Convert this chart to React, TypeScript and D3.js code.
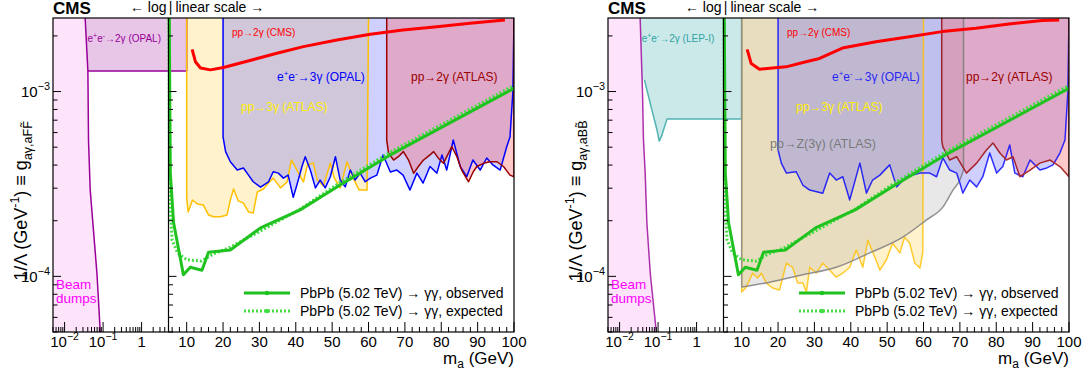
import React from "react";
import * as d3 from "d3";

type P = [number, number];

// ---- axis domains ----
const Y_MIN = 5e-5;
const Y_MAX = 2.5e-3;
const LOG_MIN = 0.005;
const SPLIT = 5;
const LIN_MAX = 100;
const TOP = 18;
const BOTTOM = 332;

const xLogMajor: [number, string, string][] = [
  [0.01, "10", "\u22122"],
  [0.1, "10", "\u22121"],
  [1, "1", ""],
];
const xLinMajor = [10, 20, 30, 40, 50, 60, 70, 80, 90, 100];
const yMajor: [number, string][] = [
  [1e-3, "\u22123"],
  [1e-4, "\u22124"],
];

// ---- left panel (a F Ftilde) ----
const beamDumpF: P[] = [[0.0342, 2.5e-3], [0.0403, 1.29e-3], [0.0418, 5.47e-4], [0.0463, 2.93e-4], [0.0692, 1.04e-4], [0.0844, 5.0e-5]];
const ee2gOpalF: P[] = [[10, 1.29e-3], [0.0403, 1.29e-3]];
const pp2gCmsF: P[] = [[11.5, 1.69e-3], [12.4, 1.45e-3], [13.8, 1.34e-3], [16.5, 1.31e-3], [20.1, 1.35e-3], [34.8, 1.61e-3], [42.1, 1.75e-3], [51.3, 1.90e-3], [60.5, 2.04e-3], [69.5, 2.15e-3], [78.8, 2.24e-3], [87.9, 2.34e-3], [97.5, 2.44e-3]];
const pp3gAtlasF: P[] = [[10.0, 2.65e-4], [10.4, 2.23e-4], [11.6, 2.59e-4], [13.0, 2.46e-4], [14.6, 2.43e-4], [16.0, 2.15e-4], [17.4, 2.10e-4], [19.3, 2.10e-4], [21.1, 2.15e-4], [22.0, 2.59e-4], [22.9, 2.97e-4], [24.2, 2.56e-4], [25.6, 2.49e-4], [27.0, 2.23e-4], [28.3, 2.20e-4], [29.4, 2.86e-4], [31.1, 2.97e-4], [32.5, 3.20e-4], [33.8, 3.40e-4], [35.8, 3.01e-4], [37.6, 3.24e-4], [38.8, 4.26e-4], [40.3, 3.76e-4], [42.1, 3.24e-4], [43.2, 4.01e-4], [44.8, 4.10e-4], [45.9, 3.32e-4], [47.6, 3.08e-4], [49.5, 4.10e-4], [50.6, 3.40e-4], [52.2, 3.01e-4], [54.1, 4.16e-4], [55.8, 3.40e-4], [57.4, 2.93e-4], [59.6, 2.93e-4]];
const ee3gOpalF: P[] = [[20.0, 5.68e-4], [20.7, 4.73e-4], [22.0, 4.17e-4], [23.9, 3.76e-4], [25.6, 3.86e-4], [27.0, 3.53e-4], [28.3, 3.25e-4], [30.3, 3.04e-4], [32.5, 3.25e-4], [33.8, 3.68e-4], [35.2, 3.62e-4], [36.6, 3.40e-4], [37.9, 3.53e-4], [39.3, 2.68e-4], [40.3, 3.12e-4], [41.7, 3.93e-4], [42.6, 4.44e-4], [44.0, 3.76e-4], [45.4, 3.01e-4], [46.7, 3.32e-4], [48.1, 3.01e-4], [49.5, 3.46e-4], [50.9, 4.44e-4], [52.2, 3.32e-4], [53.6, 3.05e-4], [55.0, 3.76e-4], [56.3, 3.32e-4], [57.7, 3.62e-4], [59.1, 3.25e-4], [60.5, 3.40e-4], [62.3, 3.53e-4], [64.0, 4.54e-4], [66.0, 3.67e-4], [67.8, 3.76e-4], [69.5, 3.53e-4], [71.4, 2.93e-4], [73.3, 3.62e-4], [75.0, 3.20e-4], [76.9, 3.93e-4], [78.8, 3.62e-4], [80.2, 4.54e-4], [81.5, 3.76e-4], [83.3, 5.47e-4], [85.2, 3.93e-4], [87.0, 3.46e-4], [88.7, 4.26e-4], [90.7, 3.76e-4], [92.5, 4.37e-4], [94.2, 4.01e-4], [96.2, 3.76e-4], [98.0, 5.03e-4], [98.9, 5.68e-4], [99.7, 1.0e-3]];
const pp2gAtlasF: P[] = [[65.0, 5.47e-4], [65.5, 4.64e-4], [66.9, 4.26e-4], [68.2, 4.44e-4], [69.6, 4.73e-4], [71.0, 4.26e-4], [72.4, 3.61e-4], [73.7, 3.93e-4], [75.1, 4.26e-4], [76.9, 4.54e-4], [77.9, 4.73e-4], [79.2, 4.36e-4], [80.6, 4.09e-4], [82.0, 4.64e-4], [82.9, 5.03e-4], [84.3, 4.44e-4], [85.6, 3.76e-4], [87.5, 3.25e-4], [88.8, 3.68e-4], [89.8, 3.93e-4], [91.6, 4.09e-4], [93.4, 4.17e-4], [95.3, 4.17e-4], [97.1, 3.93e-4], [98.9, 3.53e-4], [100, 3.46e-4]];

// ---- right panel (a B Btilde) ----
const beamDumpB: P[] = [[0.0342, 2.5e-3], [0.0393, 1.0e-3], [0.0417, 5.47e-4], [0.0462, 3.62e-4], [0.0511, 1.95e-4], [0.0626, 1.04e-4], [0.0899, 5.0e-5]];
const ee2gLepB: P[] = [[10, 7.1e-4], [0.171, 7.1e-4], [0.121, 5.68e-4], [0.107, 5.39e-4], [0.0936, 6.19e-4], [0.0692, 7.94e-4], [0.0512, 1.02e-3], [0.0443, 1.156e-3]];
const pp2gCmsB: P[] = [[11.5, 1.69e-3], [12.6, 1.42e-3], [14.9, 1.32e-3], [18.5, 1.34e-3], [22.2, 1.36e-3], [27.7, 1.45e-3], [31.4, 1.51e-3], [37.7, 1.72e-3], [46.9, 1.86e-3], [56.1, 1.98e-3], [65.1, 2.11e-3], [74.4, 2.20e-3], [83.5, 2.32e-3], [92.6, 2.42e-3], [97.3, 2.44e-3]];
const pp3gAtlasB: P[] = [[10.0, 8.22e-5], [11.3, 8.75e-5], [13.0, 1.04e-4], [14.4, 9.8e-5], [15.4, 1.04e-4], [16.8, 9.2e-5], [18.5, 8.65e-5], [20.4, 8.44e-5], [22.3, 1.18e-4], [24.0, 1.12e-4], [25.4, 9.2e-5], [26.8, 9.2e-5], [27.8, 8.22e-5], [28.7, 1.12e-4], [30.5, 1.04e-4], [32.3, 1.18e-4], [34.2, 1.08e-4], [36.0, 9.9e-5], [37.8, 1.04e-4], [39.7, 1.12e-4], [41.5, 1.39e-4], [43.3, 1.12e-4], [44.7, 1.57e-4], [46.6, 1.27e-4], [48.0, 1.08e-4], [49.8, 1.23e-4], [51.5, 1.51e-4], [53.5, 1.34e-4], [54.8, 1.63e-4], [56.2, 1.51e-4], [57.6, 1.18e-4], [59.0, 1.11e-4], [59.8, 1.34e-4]];
const ppZ3gAtlasB: P[] = [[10, 8.75e-5], [17.7, 9.3e-5], [26.8, 1.02e-4], [36.0, 1.12e-4], [45.2, 1.34e-4], [54.3, 1.63e-4], [60.8, 2.02e-4], [65.3, 2.37e-4], [68.1, 2.93e-4], [70.0, 3.32e-4], [71.0, 3.76e-4]];
const ee3gOpalB: P[] = [[20.0, 4.83e-4], [20.9, 4.10e-4], [22.3, 3.62e-4], [25.0, 3.68e-4], [26.8, 3.12e-4], [28.7, 2.93e-4], [32.3, 2.82e-4], [34.2, 3.62e-4], [36.0, 3.32e-4], [37.8, 3.46e-4], [39.7, 2.59e-4], [42.5, 4.10e-4], [44.3, 2.82e-4], [46.0, 3.32e-4], [48.0, 3.53e-4], [50.7, 4.01e-4], [52.6, 3.05e-4], [55.3, 3.46e-4], [59.0, 3.62e-4], [61.7, 3.62e-4], [63.6, 3.46e-4], [65.3, 4.37e-4], [67.2, 3.76e-4], [69.1, 3.62e-4], [70.0, 3.20e-4], [70.8, 2.82e-4], [72.7, 3.32e-4], [74.6, 3.05e-4], [76.3, 3.46e-4], [78.2, 4.65e-4], [80.1, 3.62e-4], [81.8, 3.93e-4], [83.7, 5.14e-4], [85.1, 3.62e-4], [87.3, 3.46e-4], [89.3, 4.26e-4], [92.0, 3.76e-4], [93.9, 3.86e-4], [95.6, 4.01e-4], [97.5, 4.65e-4], [98.9, 5.47e-4], [99.7, 1.0e-3]];
const pp2gAtlasB: P[] = [[65.0, 5.47e-4], [65.3, 5.03e-4], [67.2, 4.26e-4], [69.1, 4.44e-4], [71.8, 3.62e-4], [74.6, 4.10e-4], [77.3, 4.83e-4], [79.1, 5.27e-4], [81.0, 4.65e-4], [82.8, 4.26e-4], [84.6, 4.44e-4], [86.5, 3.46e-4], [89.3, 3.76e-4], [92.0, 4.10e-4], [94.8, 4.26e-4], [97.5, 3.93e-4], [100, 3.46e-4]];

// ---- this result (both panels) ----
const pbpbObserved: P[] = [[5.0, 1e-2], [5.5, 3.62e-4], [6.4, 1.95e-4], [9.1, 1.02e-4], [11.0, 1.12e-4], [14.2, 1.08e-4], [16.0, 1.35e-4], [22.0, 1.39e-4], [30.3, 1.83e-4], [41.2, 2.29e-4], [52.2, 3.12e-4], [66.0, 4.54e-4], [100, 1.04e-3]];
const pbpbExpected: P[] = [[5.0, 1e-2], [5.3, 2.59e-4], [6.0, 1.57e-4], [7.5, 1.34e-4], [10.0, 1.23e-4], [14.0, 1.21e-4], [17.0, 1.31e-4], [22.0, 1.44e-4], [30.3, 1.76e-4], [41.0, 2.30e-4], [52.0, 3.20e-4], [66.0, 4.70e-4], [100, 1.08e-3]];

const FONT = "'Liberation Sans', Arial, Helvetica, sans-serif";
const C = {
  beamFill: "#fde4fb",
  beamLine: "#990099",
  opalFill: "#e8c6e8",
  lepFill: "#cce9e9",
  lepLine: "#2ea3a3",
  yellowFill: "#fff2cc",
  yellowLine: "#ffc000",
  grayFill: "rgba(128,128,128,0.18)",
  grayLine: "#7a7a7a",
  blueFill: "rgba(100,100,255,0.3)",
  blueLine: "#0000ff",
  pinkFill: "rgba(255,90,90,0.33)",
  pinkLine: "#990000",
  red: "#ff0000",
  obs: "#1fc21f",
  exp: "#44dd44",
};

function Sup({ base, sup, size }: { base: string; sup: string; size: number }) {
  return (
    <>
      {base}
      {sup ? <tspan dy={-size * 0.45} fontSize={size * 0.7}>{sup}</tspan> : null}
    </>
  );
}

function Panel({ left, kind }: { left: number; kind: "F" | "B" }) {
  const div = left + 115.5;
  const right = left + 461;
  const xl = d3.scaleLog().domain([LOG_MIN, SPLIT]).range([left, div]);
  const xr = d3.scaleLinear().domain([SPLIT, LIN_MAX]).range([div, right]);
  const X = (m: number) => (m <= SPLIT ? xl(m) : xr(m));
  const y = d3.scaleLog().domain([Y_MIN, Y_MAX]).range([BOTTOM, TOP]);
  const line = d3.line<P>().x((d) => X(d[0])).y((d) => y(d[1]));
  const path = (pts: P[]) => line(pts) ?? "";
  const poly = (pts: P[]) => path(pts) + "Z";
  const clipId = `clip-${kind}`;
  const isF = kind === "F";
  const beam = isF ? beamDumpF : beamDumpB;
  const cms = isF ? pp2gCmsF : pp2gCmsB;
  const yellow = isF ? pp3gAtlasF : pp3gAtlasB;
  const blue = isF ? ee3gOpalF : ee3gOpalB;
  const pink = isF ? pp2gAtlasF : pp2gAtlasB;
  const lineOp = isF ? 1 : 0.8;

  const yTicks: { v: number; major: boolean }[] = [];
  for (let e = -5; e <= -3; e++)
    for (let k = 1; k <= 9; k++) {
      const v = k * Math.pow(10, e);
      if (v >= Y_MIN * 0.999 && v <= Y_MAX * 1.001) yTicks.push({ v, major: k === 1 });
    }
  const xLogTicks: { v: number; major: boolean }[] = [];
  for (let e = -3; e <= 0; e++)
    for (let k = 1; k <= 9; k++) {
      const v = k * Math.pow(10, e);
      if (v >= LOG_MIN * 0.999 && v < SPLIT * 0.999) xLogTicks.push({ v, major: k === 1 });
    }
  const xLinTicks: { v: number; major: boolean }[] = [];
  for (let v = 6; v <= LIN_MAX; v += 2) xLinTicks.push({ v, major: v % 10 === 0 });

  const grayCurve = d3.line<P>().x((d) => X(d[0])).y((d) => y(d[1])).curve(d3.curveMonotoneX);
  const grayLast = ppZ3gAtlasB[ppZ3gAtlasB.length - 1];
  const grayOutline =
    `M${X(ppZ3gAtlasB[0][0])},${y(Y_MAX)}L` + (grayCurve(ppZ3gAtlasB) ?? "").slice(1) + `L${X(grayLast[0])},${y(Y_MAX)}`;
  const grayArea = grayOutline + "Z";

  const lbl = (dx: number) => left + dx;
  const obsLegY = 293;
  const expLegY = 311;

  return (
    <g fontFamily={FONT}>
      <defs>
        <clipPath id={clipId}>
          <rect x={left} y={TOP} width={right - left} height={BOTTOM - TOP} />
        </clipPath>
      </defs>
      <g clipPath={`url(#${clipId})`}>
        {isF ? (
          <path d={poly([[LOG_MIN, Y_MAX], [10, Y_MAX], ...ee2gOpalF, [LOG_MIN, ee2gOpalF[1][1]]])} fill={C.opalFill} />
        ) : (
          <path d={poly([[LOG_MIN, Y_MAX], [10, Y_MAX], ...ee2gLepB, [LOG_MIN, ee2gLepB[ee2gLepB.length - 1][1]]])} fill={C.lepFill} />
        )}
        <path d={poly([[LOG_MIN, Y_MAX], ...beam, [LOG_MIN, Y_MIN]])} fill={C.beamFill} />
        <path d={poly([[10, Y_MAX], ...yellow, [60, Y_MAX]])} fill={C.yellowFill} />
        {!isF && <path d={grayArea} fill={C.grayFill} />}
        <path d={poly([[20, Y_MAX], ...blue, [100, Y_MAX]])} fill={C.blueFill} />
        <path d={poly([[65, Y_MAX], ...pink, [100, Y_MAX]])} fill={C.pinkFill} />

        <g fill="none" strokeWidth={1.5} strokeLinejoin="round" opacity={lineOp}>
          <path d={path(beam)} stroke={C.beamLine} />
          {isF ? (
            <path d={path([[10, Y_MAX], ...ee2gOpalF])} stroke={C.beamLine} />
          ) : (
            <path d={path([[10, Y_MAX], ...ee2gLepB])} stroke={C.lepLine} />
          )}
          <path d={path([[10, Y_MAX], ...yellow, [60, Y_MAX]])} stroke={C.yellowLine} />
          {!isF && <path d={grayOutline} stroke={C.grayLine} />}
          <path d={path([[20, Y_MAX], ...blue, [100, Y_MAX]])} stroke={C.blueLine} />
          <path d={path([[65, Y_MAX], ...pink, [100, Y_MAX]])} stroke={C.pinkLine} />
        </g>
        <path d={path(cms)} fill="none" stroke={C.red} strokeWidth={3} strokeLinejoin="round" />
        <path d={path(pbpbExpected)} fill="none" stroke={C.exp} strokeWidth={3} strokeDasharray="2,2" />
        <path d={path(pbpbObserved)} fill="none" stroke={C.obs} strokeWidth={3} strokeLinejoin="round" />
      </g>

      {/* region labels */}
      {isF ? (
        <text x={lbl(34.5)} y={42} fontSize={10} fill={C.beamLine}>
          e<tspan dy={-4} fontSize={7}>+</tspan><tspan dy={4}>e</tspan><tspan dy={-4} fontSize={7}>-</tspan><tspan dy={4}>{"\u21922\u03b3 (OPAL)"}</tspan>
        </text>
      ) : (
        <text x={lbl(33.7)} y={42} fontSize={10} fill={C.lepLine}>
          e<tspan dy={-4} fontSize={7}>+</tspan><tspan dy={4}>e</tspan><tspan dy={-4} fontSize={7}>-</tspan><tspan dy={4}>{"\u21922\u03b3 (LEP-I)"}</tspan>
        </text>
      )}
      <text x={lbl(179)} y={36} fontSize={10} fill={C.red}>{"pp\u21922\u03b3 (CMS)"}</text>
      <text x={lbl(224)} y={81} fontSize={12} fill={C.blueLine} opacity={lineOp}>
        e<tspan dy={-5} fontSize={8}>+</tspan><tspan dy={5}>e</tspan><tspan dy={-5} fontSize={8}>-</tspan><tspan dy={5}>{"\u21923\u03b3 (OPAL)"}</tspan>
      </text>
      <text x={lbl(358)} y={81} fontSize={12} fill={C.pinkLine}>{"pp\u21922\u03b3 (ATLAS)"}</text>
      <text x={lbl(188)} y={111} fontSize={12} fill="#ffee00">{"pp\u21923\u03b3 (ATLAS)"}</text>
      {!isF && <text x={lbl(162)} y={148} fontSize={12.5} fill={C.grayLine}>{"pp\u2192Z(3\u03b3) (ATLAS)"}</text>}
      <text x={lbl(3)} y={289} fontSize={13.5} fill="#ff00ff">Beam</text>
      <text x={lbl(3)} y={303} fontSize={13.5} fill="#ff00ff">dumps</text>

      {/* legend */}
      <line x1={lbl(191)} x2={lbl(237)} y1={obsLegY} y2={obsLegY} stroke={C.obs} strokeWidth={3} />
      <circle cx={lbl(214)} cy={obsLegY} r={2.3} fill={C.obs} />
      <text x={lbl(247)} y={obsLegY + 5} fontSize={14}>{"PbPb (5.02 TeV) \u2192 \u03b3\u03b3, observed"}</text>
      <line x1={lbl(191)} x2={lbl(237)} y1={expLegY} y2={expLegY} stroke={C.exp} strokeWidth={3} strokeDasharray="2,2" />
      <circle cx={lbl(214)} cy={expLegY} r={2.3} fill={C.exp} />
      <text x={lbl(247)} y={expLegY + 5} fontSize={14}>{"PbPb (5.02 TeV) \u2192 \u03b3\u03b3, expected"}</text>

      {/* frame and ticks */}
      <rect x={left} y={TOP} width={right - left} height={BOTTOM - TOP} fill="none" stroke="#000" strokeWidth={1.2} />
      <line x1={div} x2={div} y1={TOP} y2={BOTTOM} stroke="#000" strokeWidth={1.2} />
      <g stroke="#000" strokeWidth={1}>
        {yTicks.map((t, i) => (
          <g key={`y${i}`}>
            <line x1={left} x2={left + (t.major ? 8 : 4.5)} y1={y(t.v)} y2={y(t.v)} />
            <line x1={div} x2={div + (t.major ? 8 : 4.5)} y1={y(t.v)} y2={y(t.v)} />
          </g>
        ))}
        {xLogTicks.map((t, i) => (
          <line key={`xl${i}`} x1={xl(t.v)} x2={xl(t.v)} y1={BOTTOM} y2={BOTTOM - (t.major ? 10 : 5)} />
        ))}
        {xLinTicks.map((t, i) => (
          <line key={`xr${i}`} x1={xr(t.v)} x2={xr(t.v)} y1={BOTTOM} y2={BOTTOM - (t.major ? 10 : 5)} />
        ))}
      </g>

      {/* tick labels */}
      <g fontSize={15} fill="#000">
        {xLogMajor.map(([v, b, s]) => (
          <text key={`lx${v}`} x={xl(v)} y={347} textAnchor="middle">
            <Sup base={b} sup={s} size={15} />
          </text>
        ))}
        {xLinMajor.map((v) => (
          <text key={`rx${v}`} x={xr(v)} y={347} textAnchor="middle">{v}</text>
        ))}
        {yMajor.map(([v, s]) => (
          <text key={`ly${v}`} x={left - 3} y={y(v) + 5.5} textAnchor="end">
            <Sup base="10" sup={s} size={15.5} />
          </text>
        ))}
      </g>

      {/* axis titles */}
      <text x={right} y={364} fontSize={17} textAnchor="end">
        m<tspan dy={4} fontSize={12}>a</tspan><tspan dy={-4}> (GeV)</tspan>
      </text>
      <text transform={`translate(${left - 26},201) rotate(-90)`} fontSize={18} textAnchor="middle">
        {"1/\u039b (GeV"}
        <tspan dy={-8} fontSize={12.5}>{"-1"}</tspan>
        <tspan dy={8}>{") \u2261 g"}</tspan>
        <tspan dy={5} fontSize={12.5}>{isF ? "a\u03b3,aFF\u0303" : "a\u03b3,aBB\u0303"}</tspan>
      </text>

      {/* header */}
      <text x={left} y={14} fontSize={17} fontWeight="bold">CMS</text>
      <text x={div - 2} y={12} fontSize={14} textAnchor="end">{"\u2190 log"}</text>
      <text x={div + 2} y={12} fontSize={14} textAnchor="middle">|</text>
      <text x={div + 7} y={12} fontSize={14}>{"linear scale \u2192"}</text>
    </g>
  );
}

export default function App() {
  return (
    <svg width={1088} height={374} style={{ position: "absolute", left: 0, top: 0 }} xmlns="http://www.w3.org/2000/svg">
      <rect width={1088} height={374} fill="#fff" />
      <Panel left={53} kind="F" />
      <Panel left={608} kind="B" />
    </svg>
  );
}
